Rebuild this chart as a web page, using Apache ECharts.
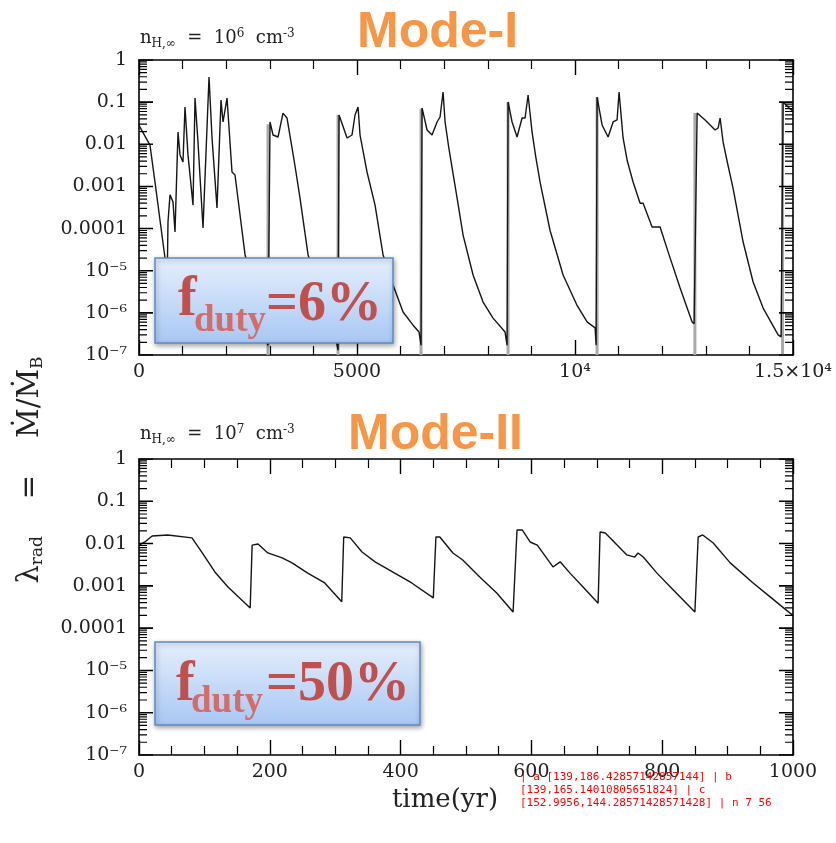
<!DOCTYPE html>
<html>
<head>
<meta charset="utf-8">
<script src="https://cdn.jsdelivr.net/npm/echarts@6/dist/echarts.min.js"></script>
<style>
  html, body { margin: 0; padding: 0; background: #fff; }
  #chart { width: 836px; height: 843px; }
  #dbg { position: absolute; left: 520px; top: 770px; width: 310px; font: 11px monospace; color: red; }
</style>
</head>
<body>
<div id="chart"></div>
<div id="dbg"></div>
<script>
const dbg = (s) => { document.getElementById('dbg').textContent += ' | ' + s; };
window.onerror = (m) => dbg('ERR ' + m);

const topTime = [0, 252, 367, 596, 630, 665, 711, 780, 826, 872, 895, 941, 1009, 1055, 1124, 1239, 1285, 1353, 1468,
  1606, 1675, 1789, 1881, 1927, 2019, 2133, 2202, 2432, 2661, 2867, 2959,
  3005, 3074, 3189, 3303, 3395, 3510, 3600, 3693, 3877, 4106, 4381, 4519, 4565,
  4588, 4772, 4886, 4955, 5024, 5070, 5150, 5230, 5414, 5597, 5827, 6056, 6286, 6423, 6469,
  6492, 6607, 6721, 6836, 6905, 6974, 7020, 7100, 7180, 7300, 7433, 7662, 7891, 8121, 8396, 8442,
  8465, 8557, 8671, 8786, 8855, 8924, 9015, 9100, 9199, 9428, 9727, 10048, 10277, 10461, 10484,
  10507, 10621, 10759, 10874, 10965, 11011, 11103, 11200, 11332, 11493, 11562, 11768, 11952, 12135, 12411, 12686, 12732,
  12801, 12984, 13213, 13282, 13328, 13397, 13500, 13626, 13856, 14085, 14315, 14659, 14727,
  14773, 14900, 15000];
const topLambda = [0.028, 0.0096, 0.00127, 2.0e-5, 4e-7, 1.43e-4, 6.3e-4, 4.3e-4, 8.3e-5, 0.0032, 0.0196, 0.0056, 0.0038, 0.077, 0.0056, 3.6e-4, 0.125, 0.0113, 1.03e-4,
  0.395, 0.0141, 3.1e-4, 0.112, 0.0338, 0.125, 0.0022, 0.00187, 2.4e-5, 3.5e-6, 3e-7, 1.7e-7,
  0.0338, 0.0166, 0.0149, 0.055, 0.042, 0.0082, 0.0022, 5.3e-4, 2.4e-5, 4e-6, 5e-7, 2.3e-7, 1.3e-7,
  0.0495, 0.0141, 0.0166, 0.0495, 0.077, 0.0166, 0.006, 0.0022, 3.6e-4, 2.4e-5, 4.6e-6, 1.05e-6, 5.1e-7, 3.5e-7, 1.7e-7,
  0.073, 0.0218, 0.0166, 0.0338, 0.0444, 0.174, 0.0338, 0.009, 0.0028, 5e-4, 7e-5, 7.9e-6, 1.8e-6, 7.5e-7, 3.5e-7, 1.7e-7,
  0.101, 0.0338, 0.0149, 0.042, 0.042, 0.148, 0.0196, 0.005, 0.00127, 9e-5, 7.9e-6, 1.5e-6, 6.1e-7, 4.4e-7, 1.7e-7,
  0.132, 0.0287, 0.0149, 0.0338, 0.0377, 0.174, 0.0141, 0.004, 0.00127, 4e-4, 4e-4, 1.09e-4, 1.09e-4, 2.8e-5, 3.9e-6, 6.1e-7, 5.5e-7,
  0.055, 0.0377, 0.0218, 0.0243, 0.042, 0.0113, 0.0035, 9e-4, 4.8e-5, 5.4e-6, 1.3e-6, 3e-7, 2.7e-7,
  0.1, 0.075, 0.06];

const spikeTime = [2959, 4565, 6469, 8465, 10507, 12750, 14760];
const spikeTop = [0.03, 0.05, 0.07, 0.1, 0.13, 0.055, 0.1];

const botTime = [0, 9, 20, 44, 81, 96, 116, 136, 170, 173, 182, 197, 219, 234, 258, 284, 310,
  313, 323, 341, 361, 391, 417, 450, 454, 460, 480, 495, 521, 547, 572,
  578, 586, 598, 609, 633, 644, 659, 679, 702, 705, 713, 731, 746, 758, 763, 771, 792, 817, 850,
  855, 862, 878, 904, 939, 965, 995, 1000];
const botLambda = [0.0092, 0.0109, 0.0151, 0.016, 0.0136, 0.0063, 0.00213, 0.00094, 0.0003, 0.0092, 0.0098, 0.006, 0.0046, 0.0035, 0.002, 0.00117, 0.00042,
  0.0143, 0.0136, 0.0063, 0.0037, 0.002, 0.00117, 0.00052, 0.0143, 0.0143, 0.006, 0.0041, 0.00162, 0.00068, 0.00024,
  0.021, 0.021, 0.0109, 0.0092, 0.0028, 0.0037, 0.002, 0.00094, 0.00039, 0.0188, 0.0178, 0.0092, 0.0054, 0.0048, 0.006, 0.0048, 0.002, 0.0008, 0.00024,
  0.0143, 0.016, 0.0103, 0.0035, 0.00117, 0.00055, 0.00023, 0.0002];

const yLabels = ['10⁻⁷', '10⁻⁶', '10⁻⁵', '0.0001', '0.001', '0.01', '0.1', '1'];
const topXLabels = { 0: '0', 5000: '5000', 10000: '10⁴', 15000: '1.5×10⁴' };
const serif = 'DejaVu Serif';
const zip = (a, b) => a.map((t, i) => [t, b[i]]);

const majorVals = [1e-7, 1e-6, 1e-5, 1e-4, 1e-3, 1e-2, 1e-1, 1];
const minorVals = [];
for (let e = -7; e < 0; e++) {
  for (let m = 2; m <= 9; m++) minorVals.push(m * Math.pow(10, e));
}

const chart = echarts.init(document.getElementById('chart'));

const xBase = (grid, max, interval, split, pos, showLabel, fmt) => ({
  type: 'value', gridIndex: grid, min: 0, max: max, interval: interval, position: pos,
  axisLine: { show: true, onZero: false, lineStyle: { color: '#000', width: 1.6 } },
  axisTick: { show: true, inside: true, length: 15, lineStyle: { color: '#000', width: 1.4 } },
  minorTick: { show: true, splitNumber: split, length: 9, lineStyle: { color: '#000', width: 1.2 } },
  splitLine: { show: false },
  axisLabel: { show: showLabel, color: '#222', fontFamily: serif, fontSize: 19, margin: 8, formatter: fmt }
});

const yBase = (grid, pos, showLabel) => ({
  type: 'log', logBase: 10, gridIndex: grid, min: 1e-7, max: 1, splitNumber: 7, position: pos,
  axisLine: { show: true, onZero: false, lineStyle: { color: '#000', width: 1.6 } },
  axisTick: { show: false },
  splitLine: { show: false },
  axisLabel: {
    show: showLabel, color: '#222', fontFamily: serif, fontSize: 19, margin: 12,
    formatter: v => yLabels[Math.round(Math.log10(v)) + 7]
  }
});

const tickLine = (ai, xmax, vals, lenPx, w) => {
  const dx = lenPx * xmax / 654;
  const data = [];
  vals.forEach(v => {
    data.push([0, v], [dx, v], [0, '-'], [xmax, v], [xmax - dx, v], [xmax, '-']);
  });
  return {
    type: 'line', xAxisIndex: ai, yAxisIndex: ai, showSymbol: false, z: 4,
    data: data, lineStyle: { color: '#000', width: w }
  };
};

const boxFill = {
  type: 'linear', x: 0, y: 0, x2: 0, y2: 1,
  colorStops: [{ offset: 0, color: '#e6effc' }, { offset: 1, color: '#a8c7f4' }]
};
const boxStyle = { fill: boxFill, stroke: '#5b8cc8', lineWidth: 1.5, shadowBlur: 5, shadowOffsetX: 1, shadowOffsetY: 2, shadowColor: 'rgba(0,0,0,0.35)' };
const fBig = 'bold 56px "Liberation Serif"';
const fSub = 'bold 37px "Liberation Serif"';

const nLabel = (y, p) => ({
  type: 'text', left: 140, top: y, z: 10,
  style: {
    text: 'n{s|H,∞}  =  10{p|' + p + '}  cm{p|-3}',
    font: '18px "DejaVu Serif"', fill: '#222',
    rich: {
      s: { fontSize: 12, fontFamily: serif, padding: [11, 0, 0, 0], fill: '#222' },
      p: { fontSize: 12, fontFamily: serif, padding: [0, 0, 9, 0], fill: '#222' }
    }
  }
});

chart.setOption({
  animation: false,
  grid: [
    { left: 139, top: 60, width: 654, height: 295 },
    { left: 139, top: 459, width: 654, height: 296 }
  ],
  xAxis: [
    xBase(0, 15000, 5000, 5, 'bottom', true, v => topXLabels[v]),
    xBase(0, 15000, 5000, 5, 'top', false),
    xBase(1, 1000, 200, 4, 'bottom', true, v => String(v)),
    xBase(1, 1000, 200, 4, 'top', false)
  ],
  yAxis: [
    yBase(0, 'left', true),
    yBase(0, 'right', false),
    yBase(1, 'left', true),
    yBase(1, 'right', false)
  ],
  series: [
    {
      type: 'line', xAxisIndex: 0, yAxisIndex: 0, showSymbol: false, z: 2,
      data: spikeTime.flatMap((t, i) => [[t, 1e-7], [t, spikeTop[i]], [t, '-']]),
      lineStyle: { color: '#a9a9a9', width: 3 }
    },
    {
      type: 'line', xAxisIndex: 0, yAxisIndex: 0, showSymbol: false, z: 3,
      data: zip(topTime, topLambda),
      lineStyle: { color: '#151515', width: 1.4 }
    },
    {
      type: 'line', xAxisIndex: 2, yAxisIndex: 2, showSymbol: false, z: 3,
      data: zip(botTime, botLambda),
      lineStyle: { color: '#151515', width: 1.4 }
    },
    tickLine(0, 15000, majorVals, 14, 1.6),
    tickLine(0, 15000, minorVals, 8, 1.2),
    tickLine(2, 1000, majorVals, 14, 1.6),
    tickLine(2, 1000, minorVals, 8, 1.2)
  ],
  graphic: [
    nLabel(28, '6'),
    nLabel(424, '7'),
    { type: 'text', left: 357, top: 8, z: 10, style: { text: 'Mode-I', font: 'bold 50px "Liberation Sans"', fill: '#f79646' } },
    { type: 'text', left: 348, top: 410, z: 10, style: { text: 'Mode-II', font: 'bold 50px "Liberation Sans"', fill: '#f79646' } },
    {
      type: 'text', x: 30, y: 470, rotation: Math.PI / 2, z: 10,
      style: {
        text: 'λ{s|rad}    =    Ṁ/Ṁ{s|B}', font: '29px "DejaVu Serif"', fill: '#222',
        align: 'center', verticalAlign: 'middle',
        rich: { s: { fontSize: 17, fontFamily: serif, padding: [16, 0, 0, 0], fill: '#222' } }
      }
    },
    { type: 'text', x: 445, y: 800, z: 10, style: { text: 'time(yr)', font: '26px "DejaVu Serif"', fill: '#222', align: 'center', verticalAlign: 'middle' } },
    { type: 'rect', z: 20, shape: { x: 155, y: 258, width: 238, height: 85 }, style: boxStyle },
    { type: 'text', z: 21, x: 178, y: 301, style: { text: 'f', font: fBig, fill: '#c0504d', verticalAlign: 'middle' } },
    { type: 'text', z: 21, x: 194, y: 321, style: { text: 'duty', font: fSub, fill: '#d46c69', verticalAlign: 'middle' } },
    { type: 'text', z: 21, x: 266, y: 306, style: { text: '=6%', font: fBig, fill: '#c0504d', verticalAlign: 'middle' } },
    { type: 'rect', z: 20, shape: { x: 155, y: 642, width: 265, height: 83 }, style: boxStyle },
    { type: 'text', z: 21, x: 176, y: 686, style: { text: 'f', font: fBig, fill: '#c0504d', verticalAlign: 'middle' } },
    { type: 'text', z: 21, x: 191, y: 702, style: { text: 'duty', font: fSub, fill: '#d46c69', verticalAlign: 'middle' } },
    { type: 'text', z: 21, x: 266, y: 686, style: { text: '=50%', font: fBig, fill: '#c0504d', verticalAlign: 'middle' } }
  ]
});

// diagnostics
try {
  const f = { xAxisIndex: 0, yAxisIndex: 0 };
  dbg('a ' + JSON.stringify(chart.convertToPixel(f, [0, 1e-3])));
  dbg('b ' + JSON.stringify(chart.convertToPixel(f, [0, 0.0032])));
  dbg('c ' + JSON.stringify(chart.convertToPixel(f, [321, 0.01])));
  dbg('n ' + chart.getOption().series.length + ' ' + minorVals.length);
} catch (e) { dbg('catch ' + e.message); }
</script>
</body>
</html>
